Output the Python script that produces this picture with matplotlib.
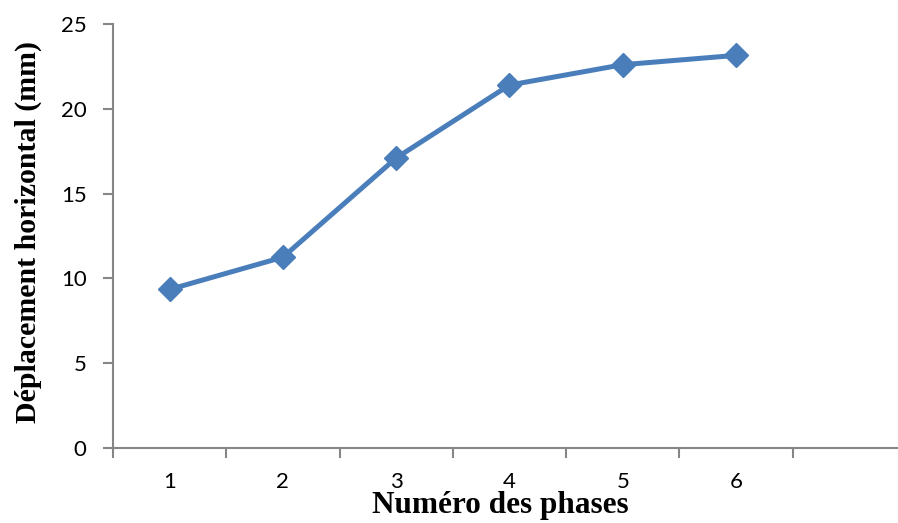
import matplotlib
matplotlib.use("Agg")
import matplotlib.pyplot as plt
import numpy as np

phases = [1, 2, 3, 4, 5, 6]
deplacement = [9.35, 11.25, 17.1, 21.4, 22.6, 23.15]
yticks = [0, 5, 10, 15, 20, 25]

axis_grey = '#868686'
line_blue = '#4A7EBB'

fig = plt.figure(figsize=(8.98, 5.23), dpi=100)
ax = fig.add_axes([113/898, 1 - 448/523, 1 - 113/898, (448 - 24)/523])

ax.plot(phases, deplacement, color=line_blue, lw=3.6, marker='D', markersize=12,
        markerfacecolor=line_blue, markeredgecolor=line_blue)

ax.set_xlim(0.5, 7.43)
ax.set_ylim(0, 25)
ax.set_yticks(yticks)
ax.set_xticks(phases)
ax.set_xticks(np.arange(0.5, 7.0, 1), minor=True)

for s in ['top', 'right']:
    ax.spines[s].set_visible(False)
for s in ['left', 'bottom']:
    ax.spines[s].set_color(axis_grey)
    ax.spines[s].set_linewidth(1.5)
    ax.spines[s].set_clip_on(False)

ax.tick_params(axis='y', which='major', length=7, width=1.5, color=axis_grey,
               labelsize=16, pad=12)
ax.tick_params(axis='x', which='major', length=0, labelsize=16, pad=17)
ax.tick_params(axis='x', which='minor', length=7, width=1.5, color=axis_grey)
for lab in ax.get_xticklabels() + ax.get_yticklabels():
    lab.set_fontfamily('Lato')

fig.text(500/898, 1 - 505/523, 'Numéro des phases', ha='center', va='center',
         fontsize=22.5, fontweight='bold', family='Liberation Serif')
fig.text(28/898, 1 - 232/523, 'Déplacement horizontal (mm)', ha='center', va='center',
         rotation=90, fontsize=21.5, fontweight='bold', family='Liberation Serif')

fig.savefig('out.png', dpi=100)
